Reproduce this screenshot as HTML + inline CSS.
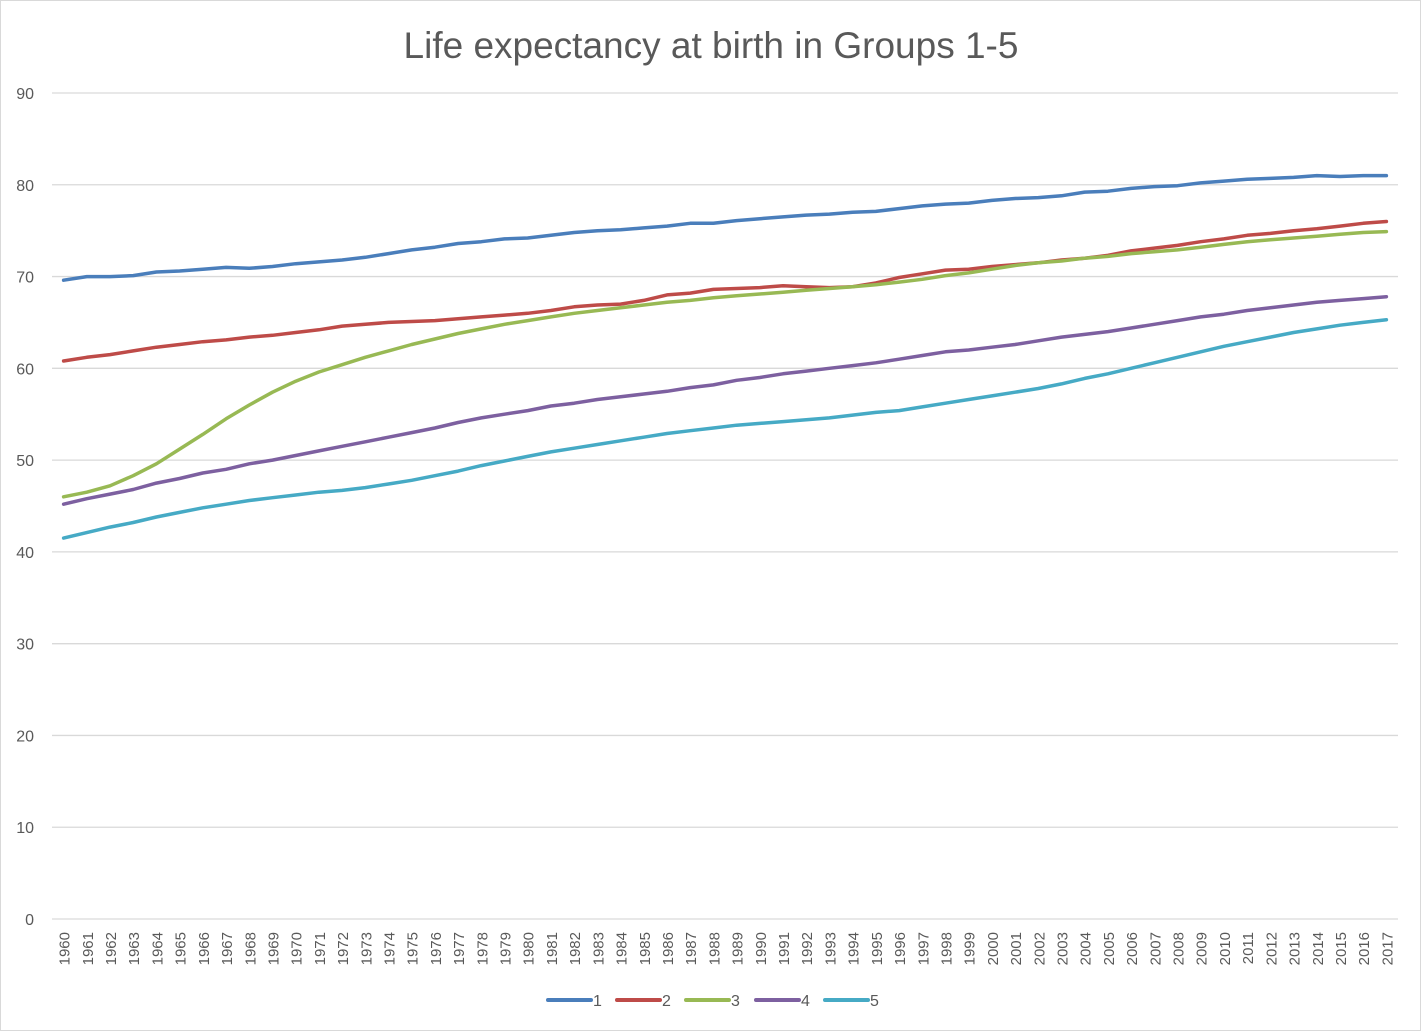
<!DOCTYPE html>
<html><head><meta charset="utf-8"><style>
html,body{margin:0;padding:0;background:#fff}
svg{display:block;font-family:"Liberation Sans",sans-serif}
</style></head><body>
<svg id="c" width="1422" height="1032" xmlns="http://www.w3.org/2000/svg">
<rect x="0.5" y="0.5" width="1420" height="1030" fill="#fff" stroke="#d9d9d9"/>
<text x="711" y="58" text-anchor="middle" font-size="37" fill="#595959">Life expectancy at birth in Groups 1-5</text>
<g id="g"></g>
</svg>
<script>
var D=[
[69.6,70,70,70.1,70.5,70.6,70.8,71,70.9,71.1,71.4,71.6,71.8,72.1,72.5,72.9,73.2,73.6,73.8,74.1,74.2,74.5,74.8,75,75.1,75.3,75.5,75.8,75.8,76.1,76.3,76.5,76.7,76.8,77,77.1,77.4,77.7,77.9,78,78.3,78.5,78.6,78.8,79.2,79.3,79.6,79.8,79.9,80.2,80.4,80.6,80.7,80.8,81,80.9,81,81],
[60.8,61.2,61.5,61.9,62.3,62.6,62.9,63.1,63.4,63.6,63.9,64.2,64.6,64.8,65,65.1,65.2,65.4,65.6,65.8,66,66.3,66.7,66.9,67,67.4,68,68.2,68.6,68.7,68.8,69,68.9,68.8,68.9,69.3,69.9,70.3,70.7,70.8,71.1,71.3,71.5,71.8,72,72.3,72.8,73.1,73.4,73.8,74.1,74.5,74.7,75,75.2,75.5,75.8,76],
[46,46.5,47.2,48.3,49.6,51.2,52.8,54.5,56,57.4,58.6,59.6,60.4,61.2,61.9,62.6,63.2,63.8,64.3,64.8,65.2,65.6,66,66.3,66.6,66.9,67.2,67.4,67.7,67.9,68.1,68.3,68.5,68.7,68.9,69.1,69.4,69.7,70.1,70.4,70.8,71.2,71.5,71.7,72,72.2,72.5,72.7,72.9,73.2,73.5,73.8,74,74.2,74.4,74.6,74.8,74.9],
[45.2,45.8,46.3,46.8,47.5,48,48.6,49,49.6,50,50.5,51,51.5,52,52.5,53,53.5,54.1,54.6,55,55.4,55.9,56.2,56.6,56.9,57.2,57.5,57.9,58.2,58.7,59,59.4,59.7,60,60.3,60.6,61,61.4,61.8,62,62.3,62.6,63,63.4,63.7,64,64.4,64.8,65.2,65.6,65.9,66.3,66.6,66.9,67.2,67.4,67.6,67.8],
[41.5,42.1,42.7,43.2,43.8,44.3,44.8,45.2,45.6,45.9,46.2,46.5,46.7,47,47.4,47.8,48.3,48.8,49.4,49.9,50.4,50.9,51.3,51.7,52.1,52.5,52.9,53.2,53.5,53.8,54,54.2,54.4,54.6,54.9,55.2,55.4,55.8,56.2,56.6,57,57.4,57.8,58.3,58.9,59.4,60,60.6,61.2,61.8,62.4,62.9,63.4,63.9,64.3,64.7,65,65.3]];
var C=["#4a7ebb","#be4b48","#98b954","#7d60a0","#46aac5"];
var s="",x0=52,x1=1398,y0=919,sy=(919-93)/90,w=(x1-x0)/58;
for(var i=0;i<=9;i++){var y=y0-i*10*sy;s+='<line x1="'+x0+'" x2="'+x1+'" y1="'+y+'" y2="'+y+'" stroke="#d9d9d9" stroke-width="1.3"/>';
s+='<text x="34" y="'+(y+6)+'" text-anchor="end" font-size="16" fill="#595959">'+(i*10)+'</text>';}
for(var j=0;j<58;j++){var x=x0+w*(j+0.5);s+='<text transform="translate('+(x+6)+',932) rotate(-90)" text-anchor="end" font-size="15" fill="#595959">'+(1960+j)+'</text>';}
D.forEach(function(d,k){var p=d.map(function(v,j){return (x0+w*(j+0.5)).toFixed(1)+','+(y0-v*sy).toFixed(1)}).join(' ');
s+='<polyline points="'+p+'" fill="none" stroke="'+C[k]+'" stroke-width="3.5" stroke-linejoin="round" stroke-linecap="round"/>';});
var lx=[548,617,686,756,825];
lx.forEach(function(x,k){s+='<line x1="'+x+'" x2="'+(x+43)+'" y1="1000" y2="1000" stroke="'+C[k]+'" stroke-width="4" stroke-linecap="round"/><text x="'+(x+45)+'" y="1006" font-size="16" fill="#595959">'+(k+1)+'</text>';});
document.getElementById("g").innerHTML=s;
</script>
</body></html>
